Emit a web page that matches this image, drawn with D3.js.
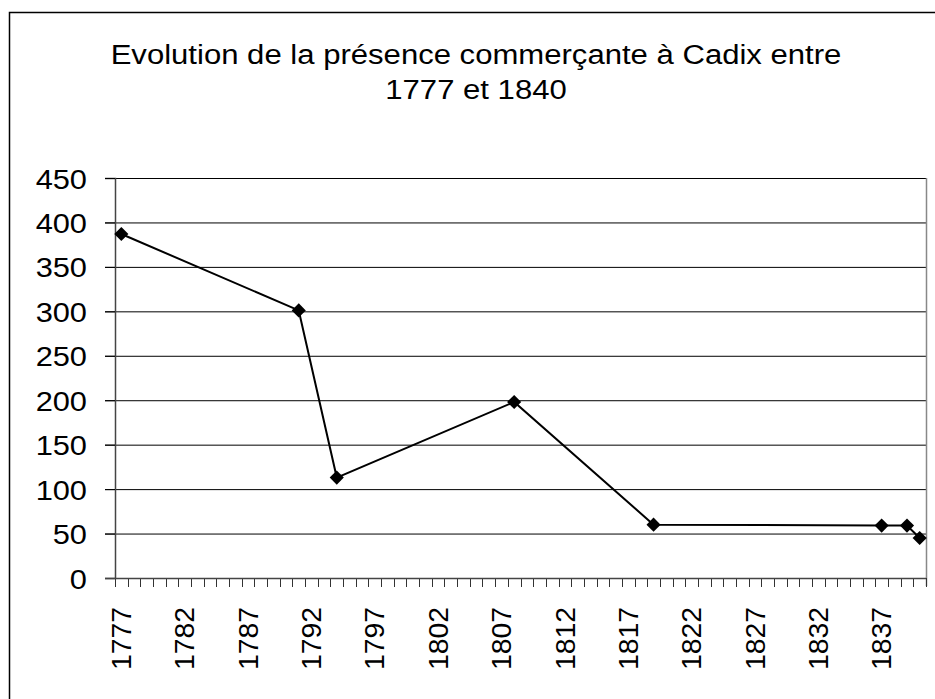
<!DOCTYPE html>
<html>
<head>
<meta charset="utf-8">
<script src="https://cdn.jsdelivr.net/npm/d3@7"></script>
<style>
	html, body { margin: 0; padding: 0; background: #fff; }
	svg { display: block; font-family: "Liberation Sans", Arial, sans-serif; }
</style>
</head>
<body>
<div id="chart"></div>
<script>
// données
let titleLines = ['Evolution de la présence commerçante à Cadix entre', '1777 et 1840'];
let years = d3.range(1777, 1841).map(String);
let tickLabels = ['1777', '1782', '1787', '1792', '1797', '1802', '1807', '1812', '1817', '1822', '1827', '1832', '1837'];
let yTicks = [0, 50, 100, 150, 200, 250, 300, 350, 400, 450];
let pointYears = ['1777', '1791', '1794', '1808', '1819', '1837', '1839', '1840'];
let pointValues = [387, 301, 113, 198, 60, 59, 59, 45];

let W = 935, H = 699;
let mLeft = 115, mRight = 926, mTop = 178, mBottom = 578;
let fontFam = '"Liberation Sans", Arial, sans-serif';

let svg = d3.select('#chart').append('svg').attr('width', W).attr('height', H);

// cadre
svg.append('rect').attr('x', 9.5).attr('y', 12.5).attr('width', 1000).attr('height', 1000)
	.attr('fill', 'none').attr('stroke', '#000').attr('stroke-width', 1.5);

// titre (police un peu élargie comme dans Excel)
svg.append('g').selectAll('text').data(titleLines).enter().append('text')
	.attr('transform', (d, i) => `translate(476,${64 + i * 35}) scale(1.11,1)`)
	.attr('text-anchor', 'middle').attr('font-size', 28).attr('fill', '#000')
	.text(d => d);

let x = d3.scaleBand().domain(years).range([mLeft, mRight]).paddingInner(0).paddingOuter(0);
let y = d3.scaleLinear().domain([0, 450]).range([mBottom, mTop]);

// grille horizontale
svg.append('g').selectAll('line').data(yTicks).enter().append('line')
	.attr('x1', mLeft - 10).attr('x2', mRight)
	.attr('y1', d => y(d) + 0.5).attr('y2', d => y(d) + 0.5)
	.attr('stroke', '#000').attr('stroke-width', 1);

// axe y
let yAxis = svg.append('g').attr('transform', `translate(${mLeft},0)`)
	.call(d3.axisLeft(y).tickValues(yTicks).tickSize(10).tickPadding(0));
yAxis.select('.domain').attr('stroke', '#444').attr('stroke-width', 1.5);
yAxis.selectAll('.tick line').attr('stroke', '#000');
yAxis.selectAll('.tick text').attr('font-size', 28).attr('fill', '#000')
	.attr('font-family', fontFam).attr('x', 0).attr('dy', '0.36em')
	.attr('transform', 'translate(-28,0) scale(1.1,1)');

// bord droit
svg.append('line').attr('x1', mRight + 0.5).attr('x2', mRight + 0.5).attr('y1', mTop).attr('y2', mBottom + 8)
	.attr('stroke', '#888').attr('stroke-width', 1.5);

// axe x : graduations entre catégories
let bounds = years.map(d => x(d)).concat([mRight]);
svg.append('g').selectAll('line').data(bounds).enter().append('line')
	.attr('x1', d => Math.round(d) + 0.5).attr('x2', d => Math.round(d) + 0.5)
	.attr('y1', mBottom).attr('y2', mBottom + 9)
	.attr('stroke', '#333').attr('stroke-width', 1);

let xAxis = svg.append('g').attr('transform', `translate(0,${mBottom})`)
	.call(d3.axisBottom(x).tickValues(tickLabels).tickSize(0));
xAxis.select('.domain').attr('d', `M${mLeft - 10},0.5H${mRight}`).attr('stroke', '#444').attr('stroke-width', 1.5);
xAxis.selectAll('.tick text')
	.attr('font-size', 27).attr('fill', '#000').attr('font-family', fontFam)
	.attr('text-anchor', 'end').attr('transform', 'rotate(-90) translate(-29,0) scale(1.05,1)')
	.attr('x', 0).attr('y', 0).attr('dy', '0.36em');

// série
let pts = pointYears.map((d, i) => ({year: d, value: pointValues[i]}));
let line = d3.line().x(d => x(d.year) + x.bandwidth() / 2).y(d => y(d.value));
svg.append('path').datum(pts).attr('d', line)
	.attr('fill', 'none').attr('stroke', '#000').attr('stroke-width', 2);

svg.append('g').selectAll('path').data(pts).enter().append('path')
	.attr('d', d3.symbol().type(d3.symbolSquare).size(100))
	.attr('transform', d => `translate(${x(d.year) + x.bandwidth() / 2},${y(d.value)}) rotate(45)`)
	.attr('fill', '#000');
</script>
</body>
</html>
